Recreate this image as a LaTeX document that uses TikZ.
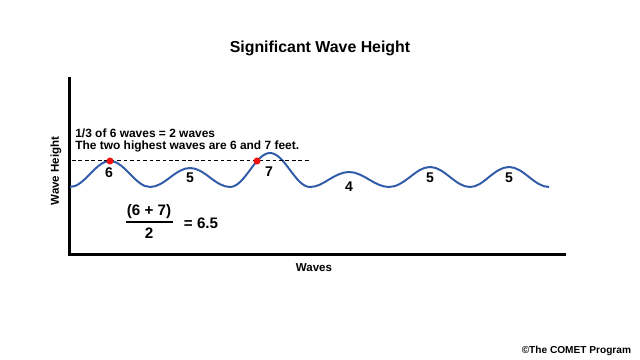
\documentclass[tikz,border=0pt]{standalone}
\usepackage{fontspec}
\setmainfont{Liberation Sans}
\definecolor{waveBlue}{HTML}{2F5BA8}
\definecolor{peakRed}{HTML}{F01010}
\usetikzlibrary{positioning}

\begin{document}
\begin{tikzpicture}[x=0.025cm, y=-0.025cm,
  axis/.style={line width=2.2pt, color=black},
  wave/.style={line width=1.4pt, color=waveBlue},
  guide/.style={dashed, dash pattern=on 2.6pt off 2pt, line width=0.6pt},
  peak/.style={circle, fill=peakRed, inner sep=0pt, minimum size=5pt},
  lbl/.style={font=\fontsize{8.5}{10}\selectfont\bfseries, inner sep=0pt},
  hnum/.style={font=\fontsize{10}{12}\selectfont\bfseries, inner sep=0pt}
]
  \useasboundingbox (0,0) rectangle (640,360);

  \node[font=\fontsize{11.3}{13}\selectfont\bfseries] (title) at (320,48) {Significant Wave Height};

  % axes
  \coordinate (top) at (69.5,77);
  \coordinate (origin) at (69.5,254.5);
  \coordinate (right) at (566,254.5);
  \draw[axis] (top) -- (origin) -- (right);
  \node[font=\fontsize{8.2}{10}\selectfont\bfseries, rotate=90] (ylab) at (56,171) {Wave Height};
  \node[font=\fontsize{8.2}{10}\selectfont\bfseries] (xlab) at (314,268) {Waves};

  % the wave train
  \draw[wave] (70,187)
    \foreach \px/\py in {110/161,190/168,270/153,349/172,430/167,509/167}{
      cos ({\px-20},{(187+\py)/2}) sin (\px,\py)
      cos ({\px+20},{(187+\py)/2}) sin ({\px+40},187)};

  % highest third
  \coordinate (guideL) at (72,160.7);
  \coordinate (guideR) at (309,160.7);
  \draw[guide] (guideL) -- (guideR);
  \node[peak] (p6) at (110,161) {};
  \node[peak] (p7) at (257,161) {};

  \node[lbl, anchor=west] (third) at (75,133) {1/3 of 6 waves = 2 waves};
  \node[lbl, anchor=west] (highest) at (75,146) {The two highest waves are 6 and 7 feet.};

  \node[hnum] (h1) at (109,173) {6};
  \node[hnum] (h2) at (190,178) {5};
  \node[hnum] (h3) at (269,172) {7};
  \node[hnum] (h4) at (349,187) {4};
  \node[hnum] (h5) at (430,178) {5};
  \node[hnum] (h6) at (509,178) {5};

  % average of the two
  \node[font=\fontsize{10.8}{12}\selectfont\bfseries] (num) at (149,212) {(6 + 7)};
  \node[font=\fontsize{10.8}{12}\selectfont\bfseries] (den) at (149,233) {2};
  \coordinate (barL) at (126,222);
  \coordinate (barR) at (173,222);
  \draw[line width=0.9pt] (barL) -- (barR);
  \node[font=\fontsize{10.8}{12}\selectfont\bfseries, anchor=west] (mean) at (179,223) {= 6.5};

  \node[font=\fontsize{7.2}{9}\selectfont\bfseries, anchor=east] (credit) at (636,351) {©The COMET Program};
\end{tikzpicture}
\end{document}
